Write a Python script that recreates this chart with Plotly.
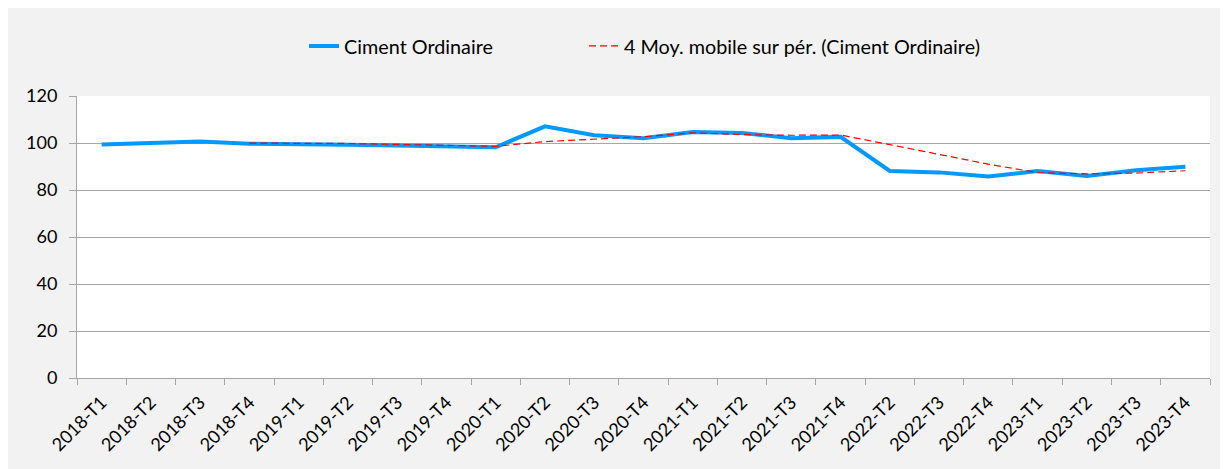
import plotly.graph_objects as go

categories = ["2018-T1", "2018-T2", "2018-T3", "2018-T4",
              "2019-T1", "2019-T2", "2019-T3", "2019-T4",
              "2020-T1", "2020-T2", "2020-T3", "2020-T4",
              "2021-T1", "2021-T2", "2021-T3", "2021-T4",
              "2022-T2", "2022-T3", "2022-T4",
              "2023-T1", "2023-T2", "2023-T3", "2023-T4"]

ciment = [99.4, 100.0, 100.6, 99.7, 99.6, 99.3, 98.9, 98.6, 98.2, 107.1, 103.3, 102.0,
          104.7, 104.3, 102.0, 102.6, 88.1, 87.5, 85.7, 88.1, 86.0, 88.4, 89.9]

moy_mobile = [None, None, None, 99.95, 99.95, 99.8, 99.4, 99.1, 98.6, 100.6, 101.7, 102.7,
              104.3, 103.6, 103.3, 103.4, 99.3, 95.1, 91.0, 87.4, 86.9, 87.2, 88.2]

y_ticks = [0, 20, 40, 60, 80, 100, 120]

FONT = "Lato"
FS_LEG = 19.8
FS_TICK = 18

fig = go.Figure()
fig.add_trace(go.Scatter(
    x=categories, y=ciment, mode="lines", name="Ciment Ordinaire",
    line=dict(color="#0099FF", width=4), legend="legend"))
fig.add_trace(go.Scatter(
    x=categories, y=moy_mobile, mode="lines",
    name="4 Moy. mobile sur pér. (Ciment Ordinaire)",
    line=dict(color="#FF0000", width=1.2, dash="7px,4px"), legend="legend2"))

fig.update_layout(
    width=1228, height=469,
    margin=dict(l=69, r=26, t=88, b=99),
    paper_bgcolor="#F2F2F2", plot_bgcolor="white",
    font=dict(family=FONT, size=FS_TICK, color="#000000"),
    showlegend=True,
    legend=dict(orientation="h", x=0.2004, xanchor="left", y=1.177, yanchor="middle",
                bgcolor="rgba(0,0,0,0)", font=dict(family=FONT, size=FS_LEG)),
    legend2=dict(orientation="h", x=0.4475, xanchor="left", y=1.177, yanchor="middle",
                 bgcolor="rgba(0,0,0,0)", font=dict(family=FONT, size=FS_LEG)),
    xaxis=dict(type="category", range=[-0.5, len(categories) - 0.5],
               tickangle=-45, tickson="boundaries",
               ticks="outside", ticklen=6, tickcolor="#A6A6A6",
               showline=True, linecolor="#A6A6A6", linewidth=1,
               showgrid=False, automargin=False, ticklabelstandoff=6,
               tickfont=dict(family=FONT, size=FS_TICK)),
    yaxis=dict(range=[0, 120], tickvals=y_ticks, ticks="outside", ticklen=7,
               tickcolor="#A6A6A6", showline=True, linecolor="#A6A6A6",
               gridcolor="#A6A6A6", gridwidth=1, zeroline=False, automargin=False,
               ticklabelstandoff=8,
               tickfont=dict(family=FONT, size=FS_TICK)),
)

fig.write_html("out.html")
